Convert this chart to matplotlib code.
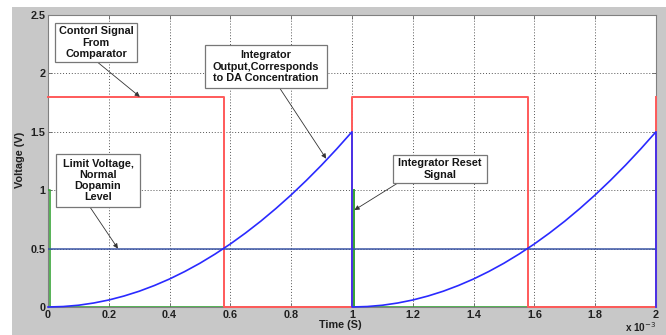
import matplotlib
matplotlib.use("Agg")
import matplotlib.pyplot as plt
from matplotlib.patches import Rectangle

plt.rcParams['font.family'] = ['Liberation Sans', 'DejaVu Sans']

# Time in units of 1e-3 s
ramp_time = [0.0, 0.05, 0.1, 0.15, 0.2, 0.25, 0.3, 0.35, 0.4, 0.45, 0.5,
             0.55, 0.6, 0.65, 0.7, 0.75, 0.8, 0.85, 0.9, 0.95, 1.0]
ramp_voltage = [0.0, 0.004, 0.015, 0.034, 0.06, 0.094, 0.135, 0.184, 0.24, 0.304, 0.375,
                0.454, 0.54, 0.634, 0.735, 0.844, 0.96, 1.084, 1.215, 1.354, 1.5]
cycle_starts = [0.0, 1.0]

control_time = [0.0, 0.578, 0.578, 1.0, 1.0, 1.578, 1.578, 2.0, 2.0]
control_voltage = [1.8, 1.8, 0.0, 0.0, 1.8, 1.8, 0.0, 0.0, 1.8]

reset_time = [0.0, 0.008, 0.008, 1.008, 1.008, 1.008, 1.008, 2.0]
reset_voltage = [1.0, 1.0, 0.0, 0.0, 0.0, 1.0, 0.0, 0.0]

limit_time = [0.0, 2.0]
limit_voltage = [0.5, 0.5]

x_ticks = [0, 0.2, 0.4, 0.6, 0.8, 1, 1.2, 1.4, 1.6, 1.8, 2]
x_ticklabels = ['0', '0.2', '0.4', '0.6', '0.8', '1', '1.2', '1.4', '1.6', '1.8', '2']
y_ticks = [0, 0.5, 1, 1.5, 2, 2.5]
y_ticklabels = ['0', '0.5', '1', '1.5', '2', '2.5']

annotation_texts = ['Contorl Signal\nFrom\nComparator',
                    'Integrator\nOutput,Corresponds\nto DA Concentration',
                    'Limit Voltage,\nNormal\nDopamin\nLevel',
                    'Integrator Reset\nSignal']

W, H = 666, 335
fig = plt.figure(figsize=(W / 100, H / 100), dpi=100, facecolor='white')
fig.patches.append(Rectangle((12 / W, 0), 1 - 12 / W, 1 - 7 / H, transform=fig.transFigure,
                             facecolor='#c8c8c8', edgecolor='none', zorder=-10))

ax = fig.add_axes([48 / W, 1 - 307 / H, (656 - 48) / W, (307 - 15) / H])
ax.set_facecolor('white')

# ramp curves (blue), including reset drops
blue_t, blue_v = [], []
for s in cycle_starts:
    blue_t += [s + t for t in ramp_time] + [s + 1.0]
    blue_v += list(ramp_voltage) + [0.0]

ax.plot(reset_time, reset_voltage, color='#3aa53a', lw=1.2, zorder=3)
ax.plot(control_time, control_voltage, color='#ff5a5a', lw=1.4, zorder=4, clip_on=False)
ax.plot(limit_time, limit_voltage, color='#3a55a5', lw=1.1, zorder=4)
ax.plot(blue_t, blue_v, color='#2a2aff', lw=1.2, zorder=5, clip_on=False)

ax.set_xlim(0, 2)
ax.set_ylim(0, 2.5)
ax.set_xticks(x_ticks)
ax.set_xticklabels(x_ticklabels)
ax.set_yticks(y_ticks)
ax.set_yticklabels(y_ticklabels)
ax.grid(True, linestyle=(0, (1, 2)), color='#555555', linewidth=0.7)
for sp in ax.spines.values():
    sp.set_color('#808080')
    sp.set_linewidth(0.8)
ax.tick_params(direction='in', length=3, width=0.6, color='#606060', labelsize=7.8, pad=2,
               top=True, right=True)
for lab in ax.get_xticklabels() + ax.get_yticklabels():
    lab.set_fontweight('bold')
    lab.set_color('#202020')

fig.text(20 / W, 1 - 160 / H, 'Voltage (V)', rotation=90, ha='center', va='center',
         fontsize=7.8, fontweight='bold', color='#202020')
fig.text(340 / W, 1 - 325 / H, 'Time (S)', ha='center', va='center',
         fontsize=7.8, fontweight='bold', color='#202020')
fig.text(641 / W, 1 - 327 / H, r'x 10$^{-3}$', ha='center', va='center',
         fontsize=7.2, fontweight='bold', color='#202020')

# annotation boxes: (t0, t1, v_bottom, v_top), arrow start, arrow tip
boxes = [
    ((0.023, 0.293, 2.098, 2.431), (0.162, 2.098), (0.302, 1.8)),
    ((0.516, 0.918, 1.875, 2.243), (0.762, 1.875), (0.915, 1.27)),
    ((0.026, 0.303, 0.856, 1.310), (0.138, 0.856), (0.230, 0.5)),
    ((1.135, 1.444, 1.062, 1.301), (1.151, 1.062), (1.008, 0.83)),
]
for text, (rect, start, tip) in zip(annotation_texts, boxes):
    t0, t1, v0, v1 = rect
    ax.add_patch(Rectangle((t0, v0), t1 - t0, v1 - v0, facecolor='white',
                           edgecolor='#777777', lw=0.9, zorder=10, clip_on=False))
    ax.text((t0 + t1) / 2, (v0 + v1) / 2, text, ha='center', va='center', fontsize=7.8,
            fontweight='bold', color='#151515', linespacing=1.15, zorder=11)
    ax.annotate('', xy=tip, xytext=start, zorder=9,
                arrowprops=dict(arrowstyle='-|>', color='#333333', lw=0.6,
                                mutation_scale=7, shrinkA=0, shrinkB=0))

fig.savefig('out.png', dpi=100, facecolor=fig.get_facecolor())
